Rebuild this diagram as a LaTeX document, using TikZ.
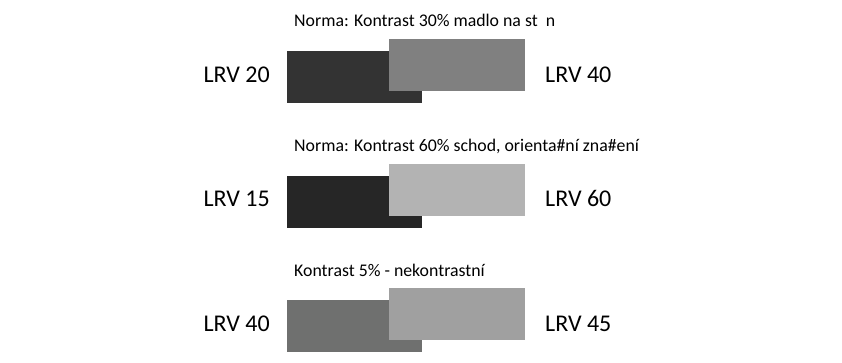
\documentclass[tikz,border=0pt]{standalone}
\usepackage{fontspec}
\setmainfont{Carlito}
\begin{document}
\begin{tikzpicture}[x=1pt,y=-1pt,
  title/.style={anchor=base west,inner sep=0pt,font=\fontsize{17.8}{20}\selectfont},
  lrv/.style={inner sep=0pt,font=\fontsize{24}{27}\selectfont}]
\useasboundingbox (0,0) rectangle (842,363);
\definecolor{d1}{HTML}{333333}\definecolor{l1}{HTML}{808080}
\definecolor{d2}{HTML}{262626}\definecolor{l2}{HTML}{B3B3B3}
\definecolor{d3}{HTML}{6F706F}\definecolor{l3}{HTML}{A0A0A0}
% row 1
\node[title] (t1) at (294,26.7) {Norma: Kontrast 30\% madlo na st\hspace{0.45em}n};
\fill[d1] (287,50.7) rectangle (422,102.7);
\fill[l1] (389.3,39) rectangle (525,91);
\node[lrv,anchor=base east] (a1) at (270,82.3) {LRV 20};
\node[lrv,anchor=base west] (b1) at (545,82.3) {LRV 40};
% row 2
\node[title] (t2) at (294,151.3) {Norma: Kontrast 60\% schod, orienta\#ní zna\#ení};
\fill[d2] (287,176) rectangle (422,227.7);
\fill[l2] (389.3,164.3) rectangle (525,216.3);
\node[lrv,anchor=base east] (a2) at (270,207) {LRV 15};
\node[lrv,anchor=base west] (b2) at (545,207) {LRV 60};
% row 3
\node[title] (t3) at (294,276) {Kontrast 5\% - nekontrastní};
\fill[d3] (287,300) rectangle (422,352);
\fill[l3] (389.3,288.3) rectangle (525,340.3);
\node[lrv,anchor=base east] (a3) at (270,331.6) {LRV 40};
\node[lrv,anchor=base west] (b3) at (545,331.6) {LRV 45};
\end{tikzpicture}
\end{document}
